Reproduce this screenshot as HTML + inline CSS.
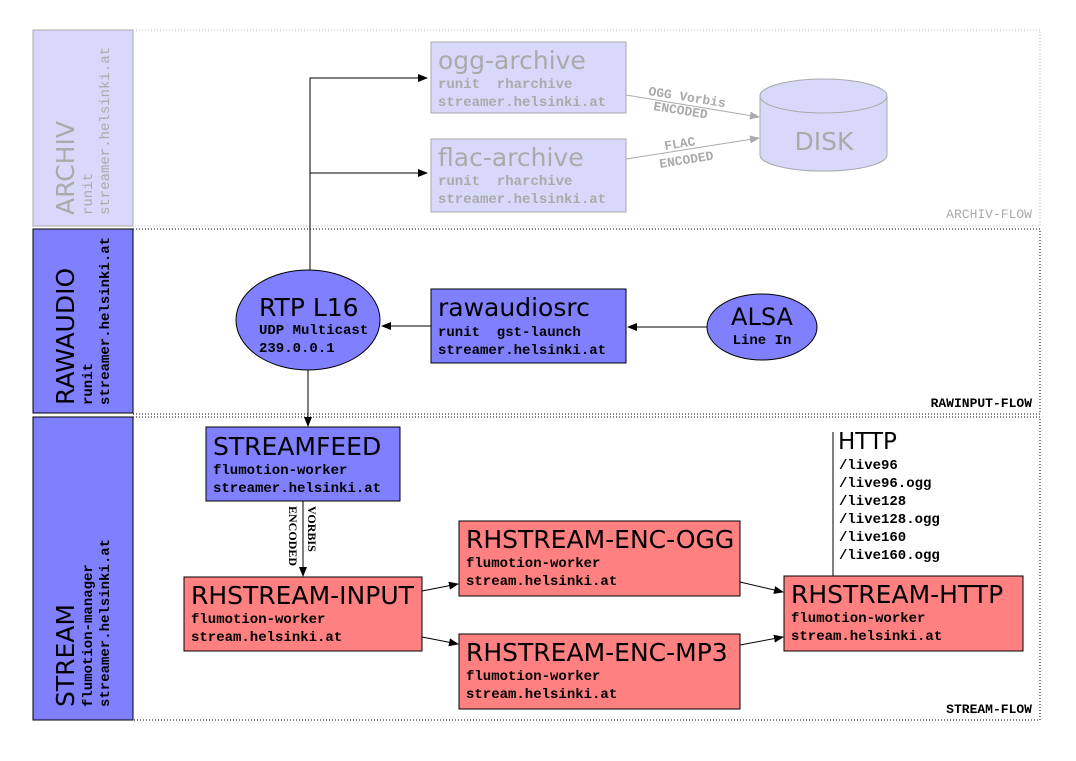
<!DOCTYPE html>
<html><head><meta charset="utf-8"><style>
html,body{margin:0;padding:0;background:#fff;}
svg{display:block;}
.s{font-family:"DejaVu Sans","Liberation Sans",sans-serif;}
.m{font-family:"Liberation Mono","DejaVu Sans Mono",monospace;font-weight:bold;}
</style></head><body>
<svg width="1076" height="761" viewBox="0 0 1076 761" xmlns="http://www.w3.org/2000/svg">
<defs>
<marker id="a" markerWidth="10" markerHeight="8" refX="9" refY="4" orient="auto" markerUnits="userSpaceOnUse"><path d="M0,0 L10,4 L0,8 z" fill="#000"/></marker>
<marker id="g" markerWidth="10" markerHeight="8" refX="9" refY="4" orient="auto" markerUnits="userSpaceOnUse"><path d="M0,0 L10,4 L0,8 z" fill="#aaa"/></marker>
</defs>
<rect x="133" y="30" width="907" height="196" fill="none" stroke="#bbb" stroke-dasharray="1,2"/>
<rect x="133" y="229" width="907" height="185" fill="none" stroke="#000" stroke-dasharray="1,2"/>
<rect x="133" y="417" width="907" height="303" fill="none" stroke="#000" stroke-dasharray="1,2"/>
<text x="1032" y="218" class="m" font-size="13" fill="#aaa" text-anchor="end" style="font-weight:normal">ARCHIV-FLOW</text>
<text x="1032" y="407" class="m" font-size="13" fill="#000" text-anchor="end">RAWINPUT-FLOW</text>
<text x="1032" y="713" class="m" font-size="13" fill="#000" text-anchor="end">STREAM-FLOW</text>
<rect x="33" y="30" width="100" height="196" fill="#d8d8fa" stroke="#aaa"/>
<g fill="#aaa"><text transform="translate(74,215) rotate(-90)" class="s" font-size="25">ARCHIV</text>
<text transform="translate(92,215) rotate(-90)" class="m" font-size="14" style="font-weight:normal">runit</text>
<text transform="translate(109,215) rotate(-90)" class="m" font-size="14" style="font-weight:normal">streamer.helsinki.at</text></g>
<rect x="33" y="229" width="100" height="184" fill="#8080ff" stroke="#000"/>
<text transform="translate(74,405) rotate(-90)" class="s" font-size="25">RAWAUDIO</text>
<text transform="translate(92,405) rotate(-90)" class="m" font-size="14">runit</text>
<text transform="translate(109,405) rotate(-90)" class="m" font-size="14">streamer.helsinki.at</text>
<rect x="33" y="417" width="100" height="303" fill="#8080ff" stroke="#000"/>
<text transform="translate(74,707) rotate(-90)" class="s" font-size="25">STREAM</text>
<text transform="translate(92,707) rotate(-90)" class="m" font-size="14">flumotion-manager</text>
<text transform="translate(109,707) rotate(-90)" class="m" font-size="14">streamer.helsinki.at</text>
<path d="M310,280 V78 H427" fill="none" stroke="#000" marker-end="url(#a)"/>
<path d="M310,173 H427" fill="none" stroke="#000" marker-end="url(#a)"/>
<rect x="431" y="42" width="195" height="71" fill="#d8d8fa" stroke="#aaa"/>
<text x="438" y="69" class="s" font-size="25" fill="#aaa">ogg-archive</text>
<text x="438" y="88" class="m" font-size="14" fill="#aaa" xml:space="preserve">runit  rharchive</text>
<text x="438" y="106" class="m" font-size="14" fill="#aaa">streamer.helsinki.at</text>
<rect x="431" y="139" width="195" height="73" fill="#d8d8fa" stroke="#aaa"/>
<text x="438" y="166" class="s" font-size="25" fill="#aaa">flac-archive</text>
<text x="438" y="185" class="m" font-size="14" fill="#aaa" xml:space="preserve">runit  rharchive</text>
<text x="438" y="203" class="m" font-size="14" fill="#aaa">streamer.helsinki.at</text>
<path d="M760,96 V155 A63,16 0 0 0 887,155 V96" fill="#d8d8fa" stroke="#aaa"/>
<ellipse cx="823.5" cy="96" rx="63.5" ry="17" fill="#d8d8fa" stroke="#aaa"/>
<text x="824" y="150" class="s" font-size="25" fill="#aaa" text-anchor="middle">DISK</text>
<line x1="626" y1="95" x2="759" y2="117" stroke="#aaa" marker-end="url(#g)"/>
<line x1="626" y1="159" x2="759" y2="138" stroke="#aaa" marker-end="url(#g)"/>
<g class="m" font-size="13" fill="#aaa">
<text transform="translate(648,95) rotate(9)">OGG Vorbis</text>
<text transform="translate(653,110) rotate(9)">ENCODED</text>
<text transform="translate(665,150) rotate(-9)">FLAC</text>
<text transform="translate(660,168) rotate(-9)">ENCODED</text></g>
<ellipse cx="308" cy="320" rx="72" ry="50" fill="#8080ff" stroke="#000"/>
<text x="259" y="316" class="s" font-size="25">RTP L16</text>
<text x="259" y="334" class="m" font-size="14">UDP Multicast</text>
<text x="259" y="352" class="m" font-size="14">239.0.0.1</text>
<rect x="431" y="289" width="195" height="74" fill="#8080ff" stroke="#000"/>
<text x="438" y="316" class="s" font-size="25">rawaudiosrc</text>
<text x="438" y="336" class="m" font-size="14" xml:space="preserve">runit  gst-launch</text>
<text x="438" y="354" class="m" font-size="14">streamer.helsinki.at</text>
<line x1="431" y1="326" x2="382" y2="326" stroke="#000" marker-end="url(#a)"/>
<ellipse cx="762" cy="327" rx="55" ry="33" fill="#8080ff" stroke="#000"/>
<text x="762" y="325" class="s" font-size="24" text-anchor="middle">ALSA</text>
<text x="762" y="344" class="m" font-size="14" text-anchor="middle">Line In</text>
<line x1="707" y1="327" x2="628" y2="327" stroke="#000" marker-end="url(#a)"/>
<line x1="308" y1="370" x2="308" y2="426" stroke="#000" marker-end="url(#a)"/>
<rect x="206" y="427" width="194" height="74" fill="#8080ff" stroke="#000"/>
<text x="213" y="455" class="s" font-size="25">STREAMFEED</text>
<text x="213" y="474" class="m" font-size="14">flumotion-worker</text>
<text x="213" y="492" class="m" font-size="14">streamer.helsinki.at</text>
<line x1="303" y1="501" x2="303" y2="576" stroke="#000" marker-end="url(#a)"/>
<text transform="translate(308,506) rotate(90)" font-size="12" style="font-family:'Liberation Serif',serif;font-weight:bold">VORBIS</text>
<text transform="translate(289,506) rotate(90)" font-size="12" style="font-family:'Liberation Serif',serif;font-weight:bold">ENCODED</text>
<rect x="184" y="577" width="238" height="74" fill="#ff8080" stroke="#000"/>
<text x="191" y="604" class="s" font-size="25">RHSTREAM-INPUT</text>
<text x="191" y="623" class="m" font-size="14">flumotion-worker</text>
<text x="191" y="641" class="m" font-size="14">stream.helsinki.at</text>
<rect x="459" y="521" width="281" height="75" fill="#ff8080" stroke="#000"/>
<text x="466" y="548" class="s" font-size="25">RHSTREAM-ENC-OGG</text>
<text x="466" y="567" class="m" font-size="14">flumotion-worker</text>
<text x="466" y="585" class="m" font-size="14">stream.helsinki.at</text>
<rect x="459" y="634" width="281" height="75" fill="#ff8080" stroke="#000"/>
<text x="466" y="661" class="s" font-size="25">RHSTREAM-ENC-MP3</text>
<text x="466" y="680" class="m" font-size="14">flumotion-worker</text>
<text x="466" y="698" class="m" font-size="14">stream.helsinki.at</text>
<rect x="784" y="576" width="239" height="75" fill="#ff8080" stroke="#000"/>
<text x="791" y="603" class="s" font-size="25">RHSTREAM-HTTP</text>
<text x="791" y="622" class="m" font-size="14">flumotion-worker</text>
<text x="791" y="640" class="m" font-size="14">stream.helsinki.at</text>
<line x1="422" y1="591" x2="458" y2="584" stroke="#000" marker-end="url(#a)"/>
<line x1="422" y1="637" x2="458" y2="644" stroke="#000" marker-end="url(#a)"/>
<line x1="740" y1="582" x2="783" y2="592" stroke="#000" marker-end="url(#a)"/>
<line x1="740" y1="645" x2="783" y2="637" stroke="#000" marker-end="url(#a)"/>
<line x1="833" y1="432" x2="833" y2="576" stroke="#000"/>
<text x="838" y="449" class="s" font-size="23">HTTP</text>
<g class="m" font-size="14">
<text x="839" y="469">/live96</text>
<text x="839" y="487">/live96.ogg</text>
<text x="839" y="505">/live128</text>
<text x="839" y="523">/live128.ogg</text>
<text x="839" y="541">/live160</text>
<text x="839" y="559">/live160.ogg</text></g>
</svg>
</body></html>
